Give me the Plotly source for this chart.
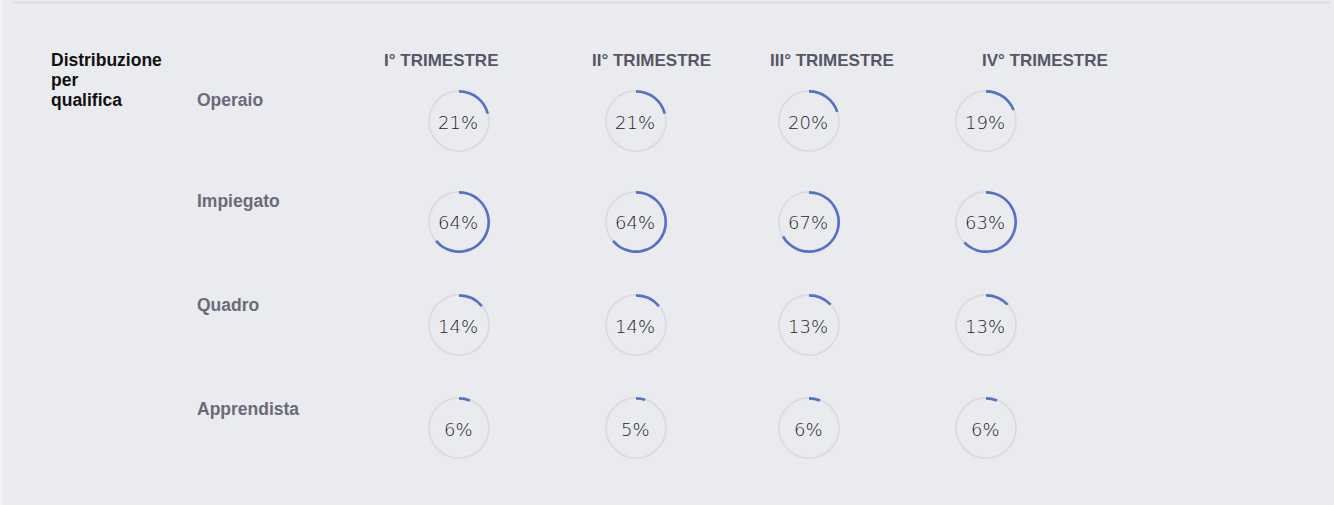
import plotly.graph_objects as go

# ---- data ----
quarters = ["I° TRIMESTRE", "II° TRIMESTRE", "III° TRIMESTRE", "IV° TRIMESTRE"]
categories = ["Operaio", "Impiegato", "Quadro", "Apprendista"]
operaio = [21, 21, 20, 19]
impiegato = [64, 64, 67, 63]
quadro = [14, 14, 13, 13]
apprendista = [6, 5, 6, 6]
section_title = ["Distribuzione", "per", "qualifica"]

values = [operaio, impiegato, quadro, apprendista]

# ---- layout constants (pixels) ----
W, H = 1334, 505
col_cx = [459, 636, 809, 986]
row_cy = [121, 222, 325, 428]
header_cx = [441, 651, 832, 1045]
header_y = 60
R = 31

BG = "#eaebef"
BLUE = "#5271c9"
TRACK = "#dcdcdf"

def px(x):
    return x / W

def py(y):
    return 1 - y / H

fig = go.Figure()

for ri, row in enumerate(values):
    for ci, v in enumerate(row):
        cx, cy = col_cx[ci], row_cy[ri]
        dom = dict(x=[px(cx - R), px(cx + R)], y=[py(cy + R), py(cy - R)])
        # grey track
        fig.add_trace(go.Pie(
            values=[100], labels=["track"], hole=0.94, sort=False,
            marker=dict(colors=[TRACK], line=dict(width=0)),
            textinfo="none", hoverinfo="skip", showlegend=False, domain=dom,
        ))
        # blue progress arc
        fig.add_trace(go.Pie(
            values=[v, 100 - v], labels=["val", "rest"], hole=0.915, sort=False,
            direction="clockwise", rotation=0,
            marker=dict(colors=[BLUE, "rgba(0,0,0,0)"], line=dict(width=0)),
            textinfo="none", hoverinfo="skip", showlegend=False, domain=dom,
        ))
        fig.add_annotation(
            x=px(cx - 1), y=py(cy + 1), xref="paper", yref="paper",
            text=f"{v}%", showarrow=False, xanchor="center", yanchor="middle",
            font=dict(family="DejaVu Sans", weight=200, size=18, color="#1e1e1e"),
        )

# column headers
for ci, q in enumerate(quarters):
    fig.add_annotation(
        x=px(header_cx[ci]), y=py(header_y), xref="paper", yref="paper",
        text=f"<b>{q}</b>", showarrow=False, xanchor="center", yanchor="middle",
        font=dict(family="Liberation Sans", size=17, color="#565667"),
    )

# row labels
row_label_y = [100, 201, 305, 409]
for ri, c in enumerate(categories):
    fig.add_annotation(
        x=px(196), y=py(row_label_y[ri]), xref="paper", yref="paper",
        text=f"<b>{c}</b>", showarrow=False, xanchor="left", yanchor="middle",
        borderpad=0,
        font=dict(family="Liberation Sans", size=17.5, color="#6a6a78"),
    )

# section title (one annotation per line)
title_y = [60, 80, 100]
for line, ty in zip(section_title, title_y):
    fig.add_annotation(
        x=px(50), y=py(ty), xref="paper", yref="paper",
        text=f"<b>{line}</b>", showarrow=False, xanchor="left", yanchor="middle",
        borderpad=0,
        font=dict(family="Liberation Sans", size=17.5, color="#111111"),
    )

# frame details
fig.add_shape(type="line", xref="paper", yref="paper",
              x0=px(12), x1=px(1330), y0=py(2.5), y1=py(2.5),
              line=dict(color="#dcdde1", width=2))
fig.add_shape(type="rect", xref="paper", yref="paper",
              x0=0, x1=px(3), y0=0, y1=1,
              line=dict(width=0), fillcolor="#f1f2f5")

fig.update_layout(
    width=W, height=H,
    margin=dict(l=0, r=0, t=0, b=0),
    paper_bgcolor=BG, plot_bgcolor=BG,
    showlegend=False,
)

fig.write_html(
    "out.html",
    config={"displayModeBar": False},
    post_script="document.body.style.margin='0';document.body.style.padding='0';",
)
